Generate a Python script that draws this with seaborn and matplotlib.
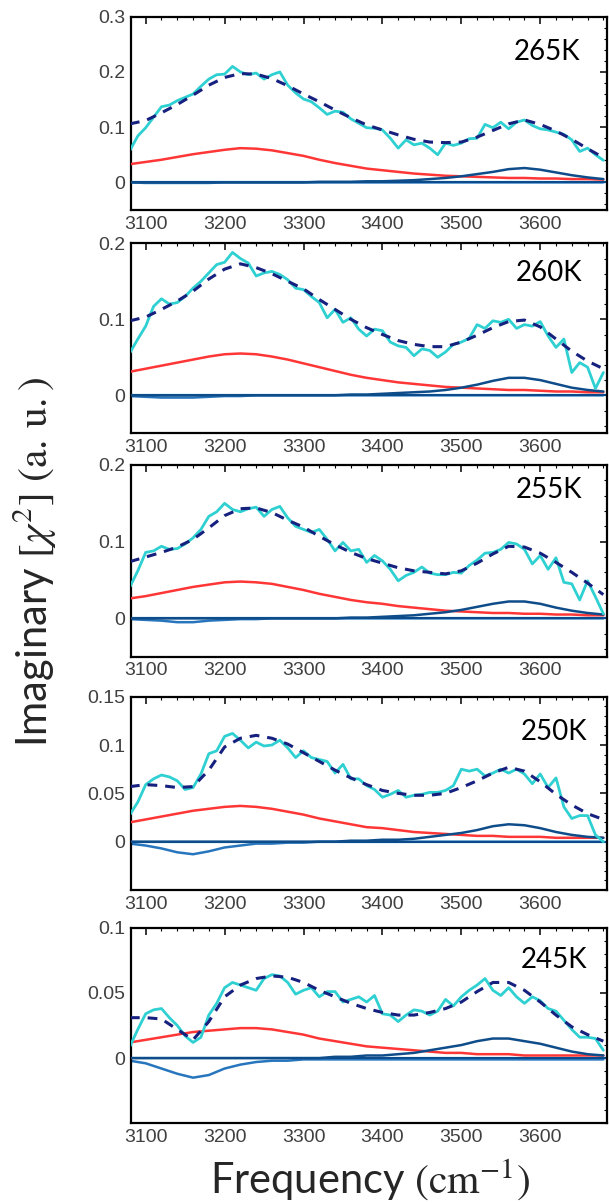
import numpy as np
import pandas as pd
import matplotlib
matplotlib.use("Agg")
import matplotlib.pyplot as plt
import seaborn as sb
from matplotlib.ticker import FixedLocator, FixedFormatter, AutoMinorLocator

#---- D A T A ----

temps = ["265K", "260K", "255K", "250K", "245K"]

# raw spectra, sampled every 10 cm-1
freq_raw = list(range(3080, 3681, 10))
# fit and components, sampled every 20 cm-1
freq_fit = list(range(3080, 3681, 20))

raw_265 = [0.058, 0.084, 0.099, 0.118, 0.137, 0.140, 0.148, 0.154, 0.160, 0.174,
           0.187, 0.195, 0.196, 0.210, 0.200, 0.195, 0.198, 0.187, 0.195, 0.200,
           0.176, 0.162, 0.151, 0.146, 0.135, 0.123, 0.129, 0.127, 0.115, 0.107,
           0.099, 0.098, 0.095, 0.080, 0.062, 0.077, 0.068, 0.071, 0.062, 0.050,
           0.071, 0.067, 0.071, 0.079, 0.080, 0.105, 0.099, 0.109, 0.097, 0.109,
           0.113, 0.103, 0.097, 0.095, 0.091, 0.087, 0.077, 0.056, 0.062, 0.050, 0.040]
raw_260 = [0.056, 0.074, 0.091, 0.117, 0.127, 0.120, 0.122, 0.130, 0.141, 0.150,
           0.161, 0.172, 0.175, 0.188, 0.180, 0.174, 0.157, 0.161, 0.163, 0.159,
           0.152, 0.141, 0.139, 0.130, 0.122, 0.102, 0.113, 0.096, 0.102, 0.087,
           0.078, 0.087, 0.085, 0.070, 0.065, 0.063, 0.052, 0.061, 0.059, 0.050,
           0.057, 0.067, 0.070, 0.075, 0.093, 0.088, 0.098, 0.096, 0.100, 0.088,
           0.093, 0.091, 0.097, 0.078, 0.063, 0.074, 0.030, 0.043, 0.037, 0.009, 0.030]
raw_255 = [0.041, 0.062, 0.086, 0.088, 0.094, 0.090, 0.091, 0.097, 0.105, 0.116,
           0.133, 0.139, 0.150, 0.142, 0.139, 0.143, 0.145, 0.133, 0.142, 0.146,
           0.131, 0.120, 0.116, 0.112, 0.116, 0.103, 0.088, 0.099, 0.088, 0.090,
           0.073, 0.082, 0.075, 0.064, 0.049, 0.056, 0.060, 0.067, 0.059, 0.057,
           0.057, 0.060, 0.059, 0.069, 0.076, 0.085, 0.086, 0.090, 0.099, 0.097,
           0.090, 0.071, 0.082, 0.064, 0.079, 0.047, 0.045, 0.024, 0.049, 0.028, 0.006]
raw_250 = [0.028, 0.041, 0.059, 0.065, 0.069, 0.067, 0.063, 0.054, 0.056, 0.070,
           0.091, 0.094, 0.109, 0.112, 0.105, 0.097, 0.103, 0.099, 0.100, 0.105,
           0.097, 0.087, 0.094, 0.087, 0.085, 0.083, 0.071, 0.080, 0.065, 0.065,
           0.058, 0.054, 0.046, 0.049, 0.053, 0.046, 0.048, 0.049, 0.051, 0.051,
           0.053, 0.058, 0.075, 0.073, 0.075, 0.068, 0.071, 0.075, 0.071, 0.075,
           0.070, 0.060, 0.070, 0.056, 0.066, 0.036, 0.024, 0.027, 0.027, 0.007, 0.000]
raw_245 = [0.009, 0.022, 0.034, 0.037, 0.038, 0.031, 0.025, 0.017, 0.012, 0.016,
           0.033, 0.042, 0.054, 0.058, 0.056, 0.054, 0.052, 0.061, 0.064, 0.063,
           0.058, 0.049, 0.052, 0.054, 0.047, 0.051, 0.051, 0.043, 0.045, 0.047,
           0.043, 0.048, 0.034, 0.033, 0.028, 0.033, 0.037, 0.036, 0.033, 0.036,
           0.045, 0.040, 0.047, 0.052, 0.056, 0.061, 0.052, 0.048, 0.054, 0.047,
           0.042, 0.047, 0.044, 0.038, 0.036, 0.029, 0.022, 0.016, 0.016, 0.015, 0.006]

fit_265 = [0.106, 0.112, 0.126, 0.141, 0.158, 0.176, 0.190, 0.197, 0.196, 0.188,
           0.175, 0.160, 0.146, 0.131, 0.117, 0.104, 0.095, 0.086, 0.078, 0.073,
           0.072, 0.073, 0.082, 0.094, 0.106, 0.113, 0.105, 0.093, 0.078, 0.061, 0.045]
fit_260 = [0.098, 0.103, 0.113, 0.124, 0.137, 0.153, 0.166, 0.173, 0.168, 0.160,
           0.150, 0.140, 0.126, 0.113, 0.100, 0.089, 0.080, 0.072, 0.067, 0.064,
           0.064, 0.070, 0.079, 0.089, 0.097, 0.099, 0.090, 0.074, 0.058, 0.045, 0.035]
fit_255 = [0.074, 0.080, 0.086, 0.093, 0.103, 0.118, 0.134, 0.143, 0.144, 0.138,
           0.128, 0.119, 0.107, 0.096, 0.086, 0.078, 0.072, 0.066, 0.062, 0.060,
           0.058, 0.062, 0.072, 0.084, 0.094, 0.093, 0.085, 0.073, 0.060, 0.046, 0.031]
fit_250 = [0.057, 0.059, 0.058, 0.056, 0.057, 0.074, 0.098, 0.107, 0.110, 0.107,
           0.101, 0.092, 0.083, 0.074, 0.066, 0.059, 0.053, 0.050, 0.048, 0.048,
           0.050, 0.056, 0.063, 0.071, 0.077, 0.073, 0.062, 0.049, 0.038, 0.029, 0.023]
fit_245 = [0.031, 0.031, 0.030, 0.022, 0.014, 0.028, 0.047, 0.056, 0.061, 0.063,
           0.062, 0.058, 0.052, 0.047, 0.042, 0.038, 0.035, 0.033, 0.033, 0.035,
           0.038, 0.043, 0.051, 0.058, 0.058, 0.052, 0.043, 0.033, 0.024, 0.018, 0.013]

# broad component (red)
red_265 = [0.033, 0.037, 0.041, 0.046, 0.051, 0.055, 0.059, 0.062, 0.061, 0.058,
           0.053, 0.048, 0.041, 0.035, 0.030, 0.025, 0.022, 0.019, 0.016, 0.014,
           0.012, 0.011, 0.010, 0.009, 0.008, 0.008, 0.007, 0.007, 0.006, 0.006, 0.005]
red_260 = [0.031, 0.035, 0.039, 0.043, 0.047, 0.051, 0.054, 0.055, 0.054, 0.051,
           0.047, 0.042, 0.037, 0.032, 0.027, 0.023, 0.020, 0.017, 0.015, 0.013,
           0.011, 0.010, 0.009, 0.008, 0.007, 0.007, 0.006, 0.005, 0.005, 0.004, 0.004]
red_255 = [0.026, 0.029, 0.033, 0.037, 0.041, 0.044, 0.047, 0.048, 0.047, 0.045,
           0.041, 0.037, 0.032, 0.028, 0.024, 0.021, 0.019, 0.016, 0.014, 0.012,
           0.010, 0.009, 0.008, 0.007, 0.007, 0.006, 0.006, 0.005, 0.005, 0.004, 0.004]
red_250 = [0.020, 0.023, 0.026, 0.029, 0.032, 0.034, 0.036, 0.037, 0.036, 0.034,
           0.031, 0.028, 0.024, 0.021, 0.018, 0.015, 0.014, 0.012, 0.010, 0.009,
           0.008, 0.007, 0.006, 0.006, 0.005, 0.005, 0.005, 0.004, 0.004, 0.004, 0.004]
red_245 = [0.012, 0.014, 0.016, 0.018, 0.020, 0.021, 0.022, 0.023, 0.023, 0.022,
           0.020, 0.018, 0.015, 0.013, 0.011, 0.009, 0.008, 0.007, 0.006, 0.005,
           0.004, 0.004, 0.003, 0.003, 0.003, 0.002, 0.002, 0.002, 0.002, 0.002, 0.002]

# high frequency component (dark blue)
peak_265 = [0, 0, 0, 0, 0, 0, 0, 0, 0, 0, 0, 0, 0.001, 0.001, 0.001, 0.002,
            0.002, 0.003, 0.004, 0.006, 0.008, 0.011, 0.015, 0.019, 0.024, 0.026,
            0.023, 0.018, 0.013, 0.009, 0.006]
peak_260 = [0, 0, 0, 0, 0, 0, 0, 0, 0, 0, 0, 0, 0, 0, 0.001, 0.001,
            0.002, 0.003, 0.004, 0.005, 0.007, 0.010, 0.014, 0.019, 0.023, 0.023,
            0.020, 0.015, 0.010, 0.007, 0.005]
peak_255 = [0, 0, 0, 0, 0, 0, 0, 0, 0, 0, 0, 0, 0, 0, 0.001, 0.001,
            0.002, 0.003, 0.004, 0.006, 0.008, 0.011, 0.015, 0.019, 0.022, 0.022,
            0.019, 0.014, 0.010, 0.007, 0.005]
peak_250 = [0, 0, 0, 0, 0, 0, 0, 0, 0, 0, 0, 0, 0, 0, 0.001, 0.001,
            0.002, 0.002, 0.003, 0.005, 0.007, 0.009, 0.012, 0.016, 0.018, 0.017,
            0.014, 0.010, 0.007, 0.005, 0.004]
peak_245 = [0, 0, 0, 0, 0, 0, 0, 0, 0, 0, 0, 0, 0, 0.001, 0.001, 0.002,
            0.002, 0.003, 0.004, 0.006, 0.008, 0.010, 0.013, 0.015, 0.015, 0.013,
            0.011, 0.008, 0.005, 0.003, 0.002]

# negative low frequency component (blue)
dip_265 = [0, -0.001, -0.001, -0.001, -0.001, -0.001, 0, 0, 0, 0, 0, 0, 0, 0, 0, 0,
           0, 0, 0, 0, 0, 0, 0, 0, 0, 0, 0, 0, 0, 0, 0]
dip_260 = [-0.001, -0.002, -0.003, -0.003, -0.003, -0.002, -0.001, -0.001, 0, 0, 0,
           0, 0, 0, 0, 0, 0, 0, 0, 0, 0, 0, 0, 0, 0, 0, 0, 0, 0, 0, 0]
dip_255 = [-0.001, -0.002, -0.003, -0.005, -0.005, -0.003, -0.002, -0.001, -0.001,
           0, 0, 0, 0, 0, 0, 0, 0, 0, 0, 0, 0, 0, 0, 0, 0, 0, 0, 0, 0, 0, 0]
dip_250 = [-0.002, -0.004, -0.007, -0.011, -0.013, -0.010, -0.006, -0.004, -0.002,
           -0.002, -0.001, -0.001, 0, 0, 0, 0, 0, 0, 0, 0, 0, 0, 0, 0, 0, 0, 0, 0,
           0, 0, 0]
dip_245 = [-0.002, -0.004, -0.008, -0.012, -0.015, -0.013, -0.008, -0.005, -0.003,
           -0.002, -0.002, -0.001, -0.001, -0.001, -0.001, -0.001, -0.001, -0.001,
           -0.001, -0.001, -0.001, -0.001, -0.001, -0.001, -0.001, -0.001, -0.001,
           -0.001, -0.001, -0.001, -0.001]

y_ticks = [[0, 0.1, 0.2, 0.3], [0, 0.1, 0.2], [0, 0.1, 0.2],
           [0, 0.05, 0.1, 0.15], [0, 0.05, 0.1]]
y_tick_labels = [["0", "0.1", "0.2", "0.3"], ["0", "0.1", "0.2"], ["0", "0.1", "0.2"],
                 ["0", "0.05", "0.1", "0.15"], ["0", "0.05", "0.1"]]
y_tops = [0.3, 0.2, 0.2, 0.15, 0.1]
x_ticks = [3100, 3200, 3300, 3400, 3500, 3600]

raws = [raw_265, raw_260, raw_255, raw_250, raw_245]
fits = [fit_265, fit_260, fit_255, fit_250, fit_245]
reds = [red_265, red_260, red_255, red_250, red_245]
peaks = [peak_265, peak_260, peak_255, peak_250, peak_245]
dips = [dip_265, dip_260, dip_255, dip_250, dip_245]

#---- L A Y O U T ----

W, H = 609, 1203
left, right = 130.7, 606.5
panel_px = [(16.7, 210), (243.3, 433.3), (465, 656.7), (696.7, 890), (927.7, 1123.3)]
temp_pos = [(0.945, 0.817), (0.95, 0.844), (0.95, 0.870), (0.96, 0.817), (0.96, 0.834)]

sb.set_style("white")
plt.rcParams["font.family"] = ["Liberation Sans", "DejaVu Sans"]
plt.rcParams["mathtext.fontset"] = "stix"

fig = plt.figure(figsize=(W / 100, H / 100), dpi=100)

for i, t in enumerate(temps):
    top, bot = panel_px[i]
    ax = fig.add_axes([left / W, 1 - bot / H, (right - left) / W, (bot - top) / H])

    ax.axhline(0, color="#1f8ad6", lw=1.6, zorder=1)
    sb.lineplot(x=freq_fit, y=dips[i], ax=ax, color="#2775bd", linewidth=1.8, zorder=2)
    ax.axhline(0, color="#0c4a8a", lw=1.4, zorder=2.5)
    sb.lineplot(x=freq_fit, y=reds[i], ax=ax, color="#ff3636", linewidth=1.8, zorder=3)
    sb.lineplot(x=freq_fit, y=peaks[i], ax=ax, color="#0f4d8a", linewidth=1.8, zorder=3)
    sb.lineplot(x=freq_raw, y=raws[i], ax=ax, color="#2fd0d2", linewidth=2.0, zorder=4)
    sb.lineplot(x=freq_fit, y=fits[i], ax=ax, color="#16207f", linewidth=2.2,
                linestyle=(0, (3.2, 2.6)), zorder=5)

    ax.set_xlim(3081, 3684)
    ax.set_ylim(-0.05, y_tops[i])
    ax.set_xlabel("")
    ax.set_ylabel("")

    ax.xaxis.set_major_locator(FixedLocator(x_ticks))
    ax.xaxis.set_minor_locator(AutoMinorLocator(5))
    ax.yaxis.set_major_locator(FixedLocator(y_ticks[i]))
    ax.yaxis.set_major_formatter(FixedFormatter(y_tick_labels[i]))
    ax.yaxis.set_minor_locator(AutoMinorLocator(5))
    ax.tick_params(which="both", direction="in", top=True, right=True,
                   labelsize=14, labelcolor="#404040", color="black")
    ax.tick_params(which="major", length=5, width=1.1, pad=4)
    ax.tick_params(which="minor", length=2.5, width=0.8)
    for s in ax.spines.values():
        s.set_color("black")
        s.set_linewidth(1.6)

    ax.text(temp_pos[i][0], temp_pos[i][1], t, transform=ax.transAxes,
            ha="right", va="center", fontsize=20, family="Lato", color="black")

fig.text(370 / W, 1 - 1180 / H, r"Frequency $(\mathrm{cm}^{-1})$", ha="center",
         va="center", fontsize=30, family="Lato")
fig.text(35 / W, 1 - 562 / H, r"Imaginary $[\chi^{2}]\ (\mathrm{a.\,u.})$",
         rotation=90, ha="center", va="center", fontsize=30, family="Lato")

plt.savefig("out.png", dpi=100)
